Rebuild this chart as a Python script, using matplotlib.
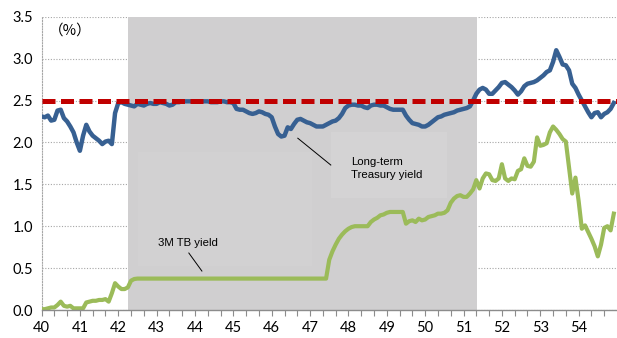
import numpy as np
import matplotlib
matplotlib.use("Agg")
import matplotlib.pyplot as plt
from matplotlib.patches import Rectangle

# monthly yields, Jan 1940 .. Dec 1954 (one row per year)
long_term = [
    2.31, 2.30, 2.32, 2.26, 2.27, 2.38, 2.39, 2.29, 2.25, 2.19, 2.12, 2.00,
    1.90, 2.08, 2.21, 2.13, 2.08, 2.05, 2.02, 1.98, 2.01, 2.02, 1.98, 2.35,
    2.47, 2.48, 2.46, 2.45, 2.44, 2.43, 2.46, 2.45, 2.44, 2.46, 2.47, 2.46,
    2.46, 2.48, 2.47, 2.46, 2.44, 2.45, 2.48, 2.48, 2.49, 2.49, 2.49, 2.49,
    2.49, 2.49, 2.49, 2.49, 2.49, 2.48, 2.48, 2.48, 2.49, 2.49, 2.48, 2.48,
    2.47, 2.40, 2.39, 2.39, 2.37, 2.35, 2.34, 2.35, 2.37, 2.36, 2.34, 2.33,
    2.30, 2.19, 2.10, 2.07, 2.08, 2.18, 2.16, 2.22, 2.27, 2.28, 2.26, 2.24,
    2.23, 2.21, 2.19, 2.19, 2.19, 2.21, 2.23, 2.25, 2.26, 2.29, 2.34, 2.41,
    2.44, 2.45, 2.45, 2.44, 2.44, 2.42, 2.41, 2.44, 2.45, 2.45, 2.44, 2.44,
    2.42, 2.40, 2.39, 2.39, 2.39, 2.39, 2.32, 2.27, 2.23, 2.22, 2.21, 2.19,
    2.19, 2.21, 2.24, 2.27, 2.30, 2.31, 2.33, 2.34, 2.35, 2.36, 2.38, 2.39,
    2.40, 2.41, 2.43, 2.50, 2.58, 2.63, 2.65, 2.63, 2.58, 2.58, 2.62, 2.66,
    2.71, 2.72, 2.69, 2.66, 2.62, 2.57, 2.61, 2.67, 2.70, 2.71, 2.72, 2.74,
    2.77, 2.80, 2.84, 2.86, 2.96, 3.10, 3.02, 2.93, 2.92, 2.86, 2.70, 2.65,
    2.57, 2.50, 2.43, 2.36, 2.30, 2.35, 2.36, 2.30, 2.34, 2.36, 2.40, 2.47,
]

tb_3m = [
    0.01, 0.01, 0.02, 0.03, 0.03, 0.06, 0.10, 0.05, 0.04, 0.05, 0.02, 0.02,
    0.02, 0.02, 0.09, 0.10, 0.11, 0.11, 0.12, 0.12, 0.13, 0.10, 0.20, 0.32,
    0.28, 0.25, 0.25, 0.27, 0.35, 0.37, 0.375, 0.375, 0.375, 0.375, 0.375, 0.375,
    0.375, 0.375, 0.375, 0.375, 0.375, 0.375, 0.375, 0.375, 0.375, 0.375, 0.375, 0.375,
    0.375, 0.375, 0.375, 0.375, 0.375, 0.375, 0.375, 0.375, 0.375, 0.375, 0.375, 0.375,
    0.375, 0.375, 0.375, 0.375, 0.375, 0.375, 0.375, 0.375, 0.375, 0.375, 0.375, 0.375,
    0.375, 0.375, 0.375, 0.375, 0.375, 0.375, 0.375, 0.375, 0.375, 0.375, 0.375, 0.375,
    0.375, 0.375, 0.375, 0.375, 0.375, 0.375, 0.60, 0.70, 0.78, 0.85, 0.90, 0.94,
    0.97, 0.99, 1.00, 1.00, 1.00, 1.00, 1.00, 1.05, 1.08, 1.10, 1.13, 1.14,
    1.16, 1.17, 1.17, 1.17, 1.17, 1.17, 1.03, 1.06, 1.07, 1.05, 1.09, 1.07,
    1.08, 1.11, 1.12, 1.13, 1.15, 1.15, 1.16, 1.19, 1.28, 1.33, 1.36, 1.37,
    1.35, 1.35, 1.39, 1.44, 1.55, 1.45, 1.57, 1.63, 1.62, 1.55, 1.54, 1.57,
    1.74, 1.57, 1.54, 1.57, 1.56, 1.66, 1.68, 1.81, 1.72, 1.71, 1.77, 2.06,
    1.96, 1.97, 1.99, 2.12, 2.19, 2.15, 2.10, 2.04, 2.01, 1.70, 1.39, 1.58,
    1.30, 0.97, 1.01, 0.93, 0.85, 0.76, 0.64, 0.78, 0.98, 1.00, 0.95, 1.15,
]

peg_level = 2.5
peg_start, peg_end = 42.25, 51.35
year_labels = [str(y) for y in range(40, 55)]

x = 40 + np.arange(len(long_term)) / 12

fig = plt.figure(figsize=(6.17, 3.38), dpi=100)
ax = fig.add_axes([0.0673, 0.0828, 0.9327, 0.8678])

ax.set_xlim(40, 55)
ax.set_ylim(0, 3.5)

# grid under the shaded band
ax.set_yticks(np.arange(0, 3.51, 0.5))
ax.yaxis.grid(True, color="#a6a6a6", linestyle=(0, (1, 1.5)), linewidth=0.8, zorder=0)
ax.set_axisbelow(True)

ax.axvspan(peg_start, peg_end, color="#d0cfd0", lw=0, zorder=1)
ax.add_patch(Rectangle((47.54, 1.34), 3.02, 0.78, color="#d4d3d4", lw=0, zorder=1.1))
ax.add_patch(Rectangle((42.51, 0.525), 4.53, 1.36, color="#d2d1d2", lw=0, zorder=1.1))

ax.plot(x, long_term, color="#376092", lw=3.2, solid_joinstyle="round", zorder=3)
ax.plot(x, tb_3m, color="#9bbb59", lw=3.0, solid_joinstyle="round", zorder=3)
ax.axhline(peg_level, color="#c00000", lw=3.6, dashes=(2.6, 1.1),
           dash_capstyle="butt", zorder=4)

# annotations
ax.text(48.06, 1.685, "Long-term\nTreasury yield", fontsize=8.2, family="Liberation Sans",
        ha="left", va="center", linespacing=1.35, zorder=5)
ax.plot([46.68, 47.54], [2.05, 1.73], color="black", lw=0.7, zorder=5)
ax.text(43.03, 0.80, "3M TB yield", fontsize=8.2, family="Liberation Sans",
        ha="left", va="center", zorder=5)
ax.plot([43.84, 44.18], [0.68, 0.465], color="black", lw=0.7, zorder=5)
ax.text(40.18, 3.33, "（%）", fontsize=10.5, family=["Noto Sans CJK JP", "DejaVu Sans"],
        ha="left", va="center")

# axes styling
for side in ("top", "right"):
    ax.spines[side].set_visible(False)
ax.spines["left"].set_color("#a6a6a6")
ax.spines["left"].set_linestyle((0, (1, 1.5)))
ax.spines["left"].set_linewidth(0.8)
ax.spines["bottom"].set_color("#8c8c8c")
ax.spines["bottom"].set_linewidth(1.0)
ax.spines["bottom"].set_zorder(6)

ax.set_xticks(np.arange(40, 55))
ax.set_xticklabels(year_labels)
ax.set_xticks(40 + np.arange(0, 45) / 3, minor=True)
ax.tick_params(axis="x", which="both", direction="out", length=4, width=0.8,
               color="#8c8c8c", labelsize=10.5, pad=4)
ax.tick_params(axis="y", length=0, labelsize=10.5, pad=6)
ax.yaxis.set_major_formatter(matplotlib.ticker.FormatStrFormatter("%.1f"))
for lab in ax.get_xticklabels() + ax.get_yticklabels():
    lab.set_family("Lato")

fig.savefig("out.png", dpi=100)
